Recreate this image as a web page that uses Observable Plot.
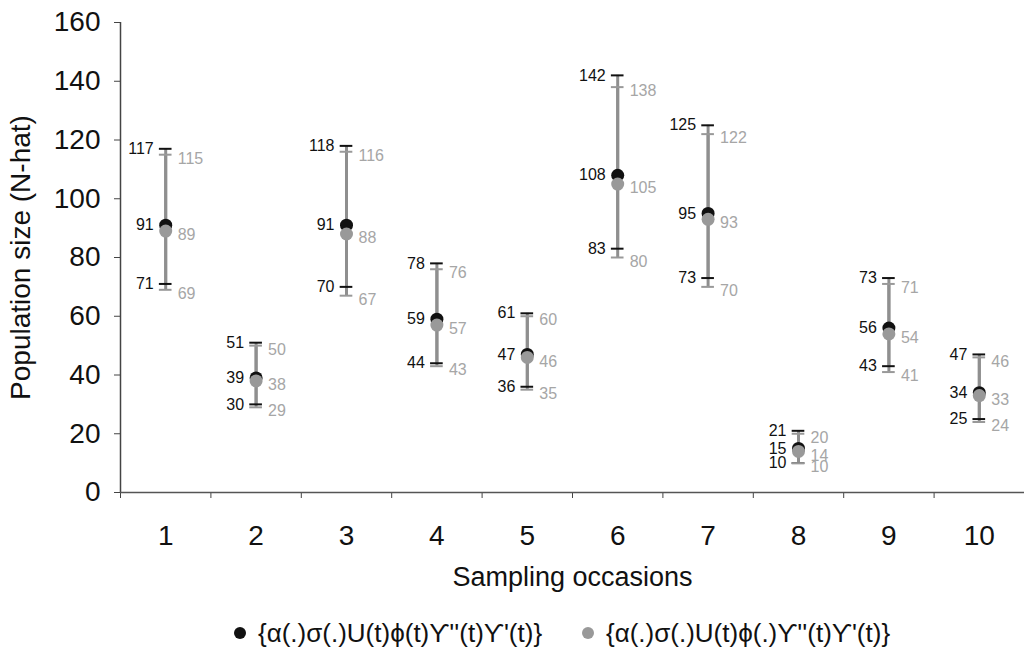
<!DOCTYPE html>
<html>
<head>
<meta charset="utf-8">
<script src="https://cdn.jsdelivr.net/npm/d3@7"></script>
<script src="https://cdn.jsdelivr.net/npm/@observablehq/plot@0.6"></script>
<style>
  body { margin: 0; background: #fff; font-family: "Liberation Sans", Arial, sans-serif; }
  #legend { position: relative; height: 44px; font-size: 26px; color: #111; }
  .item { position: absolute; top: 8px; line-height: 30px; display: flex; align-items: center; white-space: nowrap; }
  .dot { width: 12px; height: 12px; border-radius: 50%; display: inline-block; margin-right: 12px; }
</style>
</head>
<body>
<div id="chart"></div>
<div id="legend"></div>
<script>
const occasions = [1, 2, 3, 4, 5, 6, 7, 8, 9, 10];
const seriesNames = ["{α(.)σ(.)U(t)ϕ(t)ϒ''(t)ϒ'(t)}", "{α(.)σ(.)U(t)ϕ(.)ϒ''(t)ϒ'(t)}"];
const estA = [91, 39, 91, 59, 47, 108, 95, 15, 56, 34];
const lowA = [71, 30, 70, 44, 36, 83, 73, 10, 43, 25];
const upA  = [117, 51, 118, 78, 61, 142, 125, 21, 73, 47];
const estB = [89, 38, 88, 57, 46, 105, 93, 14, 54, 33];
const lowB = [69, 29, 67, 43, 35, 80, 70, 10, 41, 24];
const upB  = [115, 50, 116, 76, 60, 138, 122, 20, 71, 46];
const yTicks = [0, 20, 40, 60, 80, 100, 120, 140, 160];

const black = "#111111", greyDot = "#999999", greyLine = "#8f8f8f", greyText = "#a6a6a6";

const A = occasions.map((o, i) => ({o, est: estA[i], low: lowA[i], up: upA[i]}));
const B = occasions.map((o, i) => ({o, est: estB[i], low: lowB[i], up: upB[i]}));
const bounds = d3.range(0, 11).map(i => i + 0.5);
const capW = 0.07;

const chart = Plot.plot({
  width: 1024,
  height: 610,
  marginLeft: 120,
  marginRight: 0,
  marginTop: 22,
  marginBottom: 118,
  style: {fontFamily: "Liberation Sans, Arial, sans-serif", fontSize: "20px", color: "#111", background: "#fff"},
  x: {type: "linear", domain: [0.5, 10.5]},
  y: {domain: [0, 160]},
  marks: [
    Plot.axisY({ticks: yTicks, tickSize: 6, tickPadding: 14, fontSize: 28, stroke: "#444", label: null}),
    Plot.axisX({ticks: bounds, tickSize: 6, tickFormat: () => "", stroke: "#444", label: null}),
    Plot.axisX({ticks: occasions, tickSize: 0, tickPadding: 33, fontSize: 28, label: null}),
    Plot.ruleX([0.5], {y1: 0, y2: 160, stroke: "#444", strokeWidth: 1.5}),
    Plot.ruleY([0], {stroke: "#555", strokeWidth: 1.5}),
    // error bars
    Plot.ruleX(A, {x: "o", y1: "low", y2: "up", stroke: greyLine, strokeWidth: 3}),
    Plot.ruleX(B, {x: "o", y1: "low", y2: "up", stroke: greyLine, strokeWidth: 3}),
    Plot.ruleY(A, {y: "up", x1: d => d.o - capW, x2: d => d.o + capW, stroke: black, strokeWidth: 2}),
    Plot.ruleY(A, {y: "low", x1: d => d.o - capW, x2: d => d.o + capW, stroke: black, strokeWidth: 2}),
    Plot.ruleY(B, {y: "up", x1: d => d.o - capW, x2: d => d.o + capW, stroke: greyDot, strokeWidth: 2}),
    Plot.ruleY(B, {y: "low", x1: d => d.o - capW, x2: d => d.o + capW, stroke: greyDot, strokeWidth: 2}),
    Plot.dot(A, {x: "o", y: "est", r: 6.5, fill: black}),
    Plot.dot(B, {x: "o", y: "est", r: 6.5, fill: greyDot}),
    // labels series A (left) and B (right)
    ...["up", "est", "low"].map(k => Plot.text(A, {x: "o", y: k, text: d => String(d[k]), textAnchor: "end", dx: -12, fontSize: 16, fill: black})),
    ...["up", "est", "low"].map(k => Plot.text(B, {x: "o", y: k, text: d => String(d[k]), textAnchor: "start", dx: 12, dy: 4, fontSize: 16, fill: greyText})),
    // titles
    Plot.text(["Sampling occasions"], {frameAnchor: "bottom", dy: 93, fontSize: 27, fill: black}),
    Plot.text(["Population size (N-hat)"], {frameAnchor: "left", textAnchor: "middle", dx: -99, rotate: -90, fontSize: 28, fill: black})
  ]
});
document.getElementById("chart").appendChild(chart);

const legend = document.getElementById("legend");
const pos = [234, 582];
[black, greyDot].forEach((c, i) => {
  const item = document.createElement("div");
  item.className = "item";
  item.style.left = pos[i] + "px";
  item.innerHTML = `<span class="dot" style="background:${c}"></span><span>${seriesNames[i]}</span>`;
  legend.appendChild(item);
});
</script>
</body>
</html>
